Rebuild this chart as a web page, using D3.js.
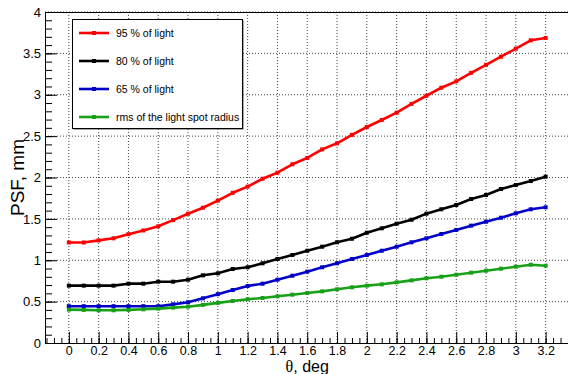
<!DOCTYPE html>
<html><head><meta charset="utf-8">
<script src="https://cdn.jsdelivr.net/npm/d3@7"></script>
<style>body{margin:0;background:#fff}svg{display:block;font-family:"Liberation Sans",Arial,Helvetica,sans-serif}</style>
</head><body><svg id="c" width="568" height="374"></svg>
<script>
const theta = [0,0.1,0.2,0.3,0.4,0.5,0.6,0.7,0.8,0.9,1.0,1.1,1.2,1.3,1.4,1.5,1.6,1.7,1.8,1.9,2.0,2.1,2.2,2.3,2.4,2.5,2.6,2.7,2.8,2.9,3.0,3.1,3.2];
const psf95 = [1.215,1.215,1.24,1.265,1.315,1.36,1.41,1.485,1.562,1.635,1.72,1.815,1.89,1.985,2.058,2.16,2.236,2.34,2.413,2.515,2.61,2.695,2.783,2.89,2.988,3.085,3.162,3.265,3.362,3.46,3.557,3.658,3.686];
const psf80 = [0.693,0.693,0.693,0.693,0.717,0.717,0.741,0.741,0.765,0.818,0.842,0.894,0.915,0.963,1.015,1.063,1.115,1.164,1.217,1.26,1.333,1.386,1.442,1.49,1.563,1.616,1.668,1.74,1.789,1.861,1.909,1.957,2.01];
const psf65 = [0.445,0.445,0.445,0.445,0.445,0.445,0.445,0.467,0.492,0.54,0.59,0.64,0.689,0.717,0.765,0.813,0.862,0.915,0.963,1.015,1.063,1.115,1.164,1.217,1.265,1.317,1.366,1.418,1.466,1.514,1.567,1.616,1.64];
const psfRms = [0.403,0.40,0.395,0.395,0.40,0.407,0.415,0.427,0.439,0.461,0.485,0.508,0.528,0.544,0.564,0.584,0.604,0.624,0.649,0.673,0.693,0.709,0.733,0.757,0.782,0.801,0.825,0.85,0.874,0.898,0.922,0.946,0.934];
const seriesNames = ["95 % of light","80 % of light","65 % of light","rms of the light spot radius"];
const seriesColors = ["#ff0000","#000000","#0000c8","#18a018"];
const xTicks = [0,0.2,0.4,0.6,0.8,1,1.2,1.4,1.6,1.8,2,2.2,2.4,2.6,2.8,3,3.2];
const yTicks = [0,0.5,1,1.5,2,2.5,3,3.5,4];
const xTitleSym = "θ", xTitleRest = ", deg", yTitle = "PSF, mm";

const series = [psf95, psf80, psf65, psfRms];
const svg = d3.select("#c");
const L = 45, T = 12, B = 343;
const x = d3.scaleLinear().domain([-0.16, 3.36]).range([L, L + 3.52*149]);
const y = d3.scaleLinear().domain([0, 4]).range([B, T]);
const R = x.range()[1];

// grid
const g = svg.append("g");
g.selectAll(".gx").data(xTicks).enter().append("line")
  .attr("x1", d => x(d)).attr("x2", d => x(d)).attr("y1", T).attr("y2", B)
  .attr("stroke", "#444").attr("stroke-width", 1).attr("stroke-dasharray", "1,2");
g.selectAll(".gy").data(yTicks.slice(1)).enter().append("line")
  .attr("x1", L).attr("x2", R).attr("y1", d => y(d)).attr("y2", d => y(d))
  .attr("stroke", "#444").attr("stroke-width", 1).attr("stroke-dasharray", "1,2");

// frame
svg.append("line").attr("x1", L).attr("x2", R).attr("y1", T+0.5).attr("y2", T+0.5).attr("stroke", "#000");

// x axis (ticks inward)
const xMinor = d3.range(-0.15, 3.36, 0.05).map(v => +v.toFixed(2));
const xa = d3.axisBottom(x).tickValues(xMinor).tickSize(-5).tickFormat("");
svg.append("g").attr("transform", `translate(0,${B})`).call(xa).call(s => s.select(".domain").remove());
const xaM = d3.axisBottom(x).tickValues(xTicks).tickSize(-11).tickPadding(3).tickFormat(d => d3.format("")(d));
const gxa = svg.append("g").attr("transform", `translate(0,${B})`).call(xaM);
gxa.select(".domain").attr("d", `M${L},0.5H${R}`);
gxa.selectAll("text").attr("font-size", 12.5).attr("fill", "#000").attr("font-family", "Liberation Sans, Arial, sans-serif");

// y axis
const yMinor = d3.range(0, 4.001, 0.1).map(v => +v.toFixed(1));
const ya = d3.axisLeft(y).tickValues(yMinor).tickSize(-7).tickFormat("");
svg.append("g").attr("transform", `translate(${L},0)`).call(ya).call(s => s.select(".domain").remove());
const yaM = d3.axisLeft(y).tickValues(yTicks).tickSize(-12).tickPadding(4).tickFormat(d => d3.format("")(d));
const gya = svg.append("g").attr("transform", `translate(${L},0)`).call(yaM);
gya.select(".domain").attr("d", `M0.5,${T}V${B}`);
gya.selectAll("text").attr("font-size", 13).attr("fill", "#000").attr("font-family", "Liberation Sans, Arial, sans-serif");
svg.selectAll(".tick line").attr("stroke", "#000");

// titles
const xt = svg.append("text").attr("x", (L+R)/2).attr("y", 371.5).attr("text-anchor", "middle").attr("font-size", 16);
xt.append("tspan").attr("font-family", "Liberation Serif, Times New Roman, serif").text(xTitleSym);
xt.append("tspan").text(xTitleRest);
svg.append("text").attr("transform", `translate(24,${(T+B)/2}) rotate(-90)`).attr("text-anchor", "middle")
  .attr("font-size", 19).text(yTitle);

// series
const line = d3.line().x((d,i) => x(theta[i])).y(d => y(d));
series.forEach((s, k) => {
  svg.append("path").datum(s).attr("d", line).attr("fill", "none")
    .attr("stroke", seriesColors[k]).attr("stroke-width", 2.6).attr("stroke-linejoin", "round");
  svg.append("g").selectAll("rect").data(s).enter().append("rect")
    .attr("x", (d,i) => x(theta[i]) - 2).attr("y", d => y(d) - 2)
    .attr("width", 4).attr("height", 4).attr("fill", seriesColors[k]);
});

// legend
const lg = svg.append("g");
lg.append("rect").attr("x", 73.5).attr("y", 20.5).attr("width", 170).attr("height", 109)
  .attr("fill", "#555");
lg.append("rect").attr("x", 72.5).attr("y", 19.5).attr("width", 170).attr("height", 109)
  .attr("fill", "#fff").attr("stroke", "#000").attr("stroke-width", 1);
const rows = [33, 61, 89, 117];
seriesNames.forEach((n, k) => {
  lg.append("line").attr("x1", 79).attr("x2", 109).attr("y1", rows[k]).attr("y2", rows[k])
    .attr("stroke", seriesColors[k]).attr("stroke-width", 2.6);
  lg.append("rect").attr("x", 92).attr("y", rows[k]-2).attr("width", 4).attr("height", 4).attr("fill", seriesColors[k]);
  lg.append("text").attr("x", 116).attr("y", rows[k] + 4).attr("font-size", 10.5).text(n);
});
</script></body></html>
